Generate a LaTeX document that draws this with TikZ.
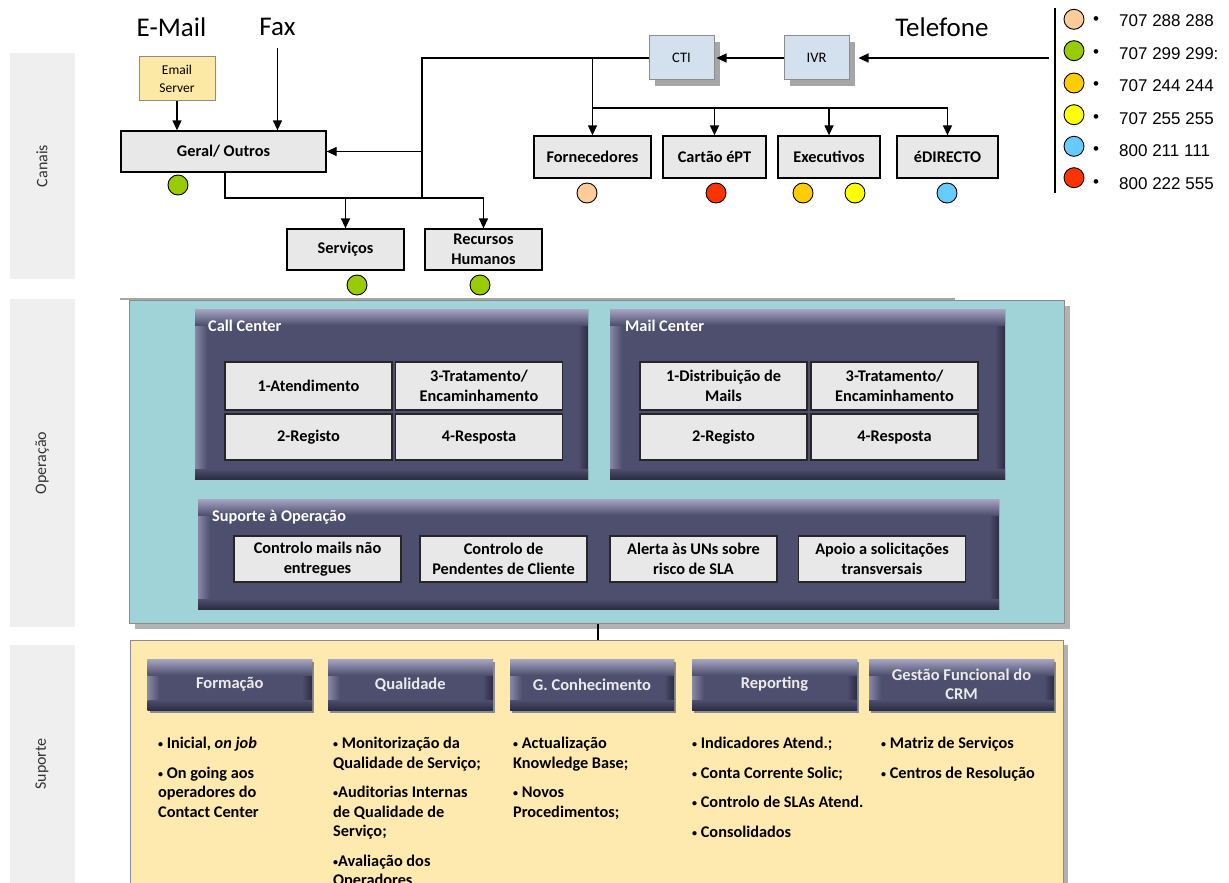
\documentclass[tikz,border=0pt]{standalone}
\usepackage{fontspec}
\setmainfont{Carlito}
\newfontfamily\numfont{Liberation Sans}
\usetikzlibrary{arrows.meta,shadows,calc}

\definecolor{boxgray}{HTML}{E8E8E8}
\definecolor{slate}{HTML}{4E4E6E}
\definecolor{slatehi}{HTML}{A6A6C4}
\definecolor{slatelo}{HTML}{2C2C44}
\definecolor{opsteal}{HTML}{A0D3D7}
\definecolor{suppy}{HTML}{FEE9AE}
\definecolor{stripgray}{HTML}{EFEFEF}
\definecolor{ctiblue}{HTML}{D3E1EE}
\definecolor{esyellow}{HTML}{FDE9A6}
\definecolor{cgreen}{HTML}{99CC00}
\definecolor{cpeach}{HTML}{FFCC99}
\definecolor{cred}{HTML}{FF3300}
\definecolor{corange}{HTML}{FFCC00}
\definecolor{cyellow}{HTML}{FFFF00}
\definecolor{cblue}{HTML}{66CCFF}

\newcommand\fBig{\fontsize{27}{30}\selectfont}
\newcommand\fLbl{\fontsize{16.3}{19.5}\selectfont\bfseries}
\newcommand\fSmall{\fontsize{13.5}{18}\selectfont}
\newcommand\fStrip{\fontsize{16}{19}\selectfont}
\newcommand\fNum{\numfont\fontsize{17}{20}\selectfont}
% small list bullet
\newcommand\bul{\raisebox{1pt}{\fontsize{10}{10}\selectfont •}}

\tikzset{
  box/.style={rectangle, draw=black, line width=1.3pt, fill=boxgray,
    inner sep=0pt, align=center, font=\fLbl},
  chan/.style={box, minimum height=41pt},
  cell/.style={box, line width=1.5pt, draw=black!85, minimum width=167pt},
  techbox/.style={rectangle, draw=black!45, line width=1pt, fill=ctiblue,
    minimum width=65pt, minimum height=44pt, font=\fontsize{14.5}{17}\selectfont,
    drop shadow={shadow xshift=6pt, shadow yshift=-6pt, fill=black!35, opacity=1}},
  dot/.style={circle, draw=black, line width=0.9pt, minimum size=20pt, inner sep=0pt},
  arr/.style={-{Triangle[length=10pt,width=9pt]}, line width=1.3pt},
  wire/.style={line width=1.8pt},
  bevel/.style={path picture={
      \coordinate (bvA) at (path picture bounding box.north west);
      \coordinate (bvB) at (path picture bounding box.south east);
      \shade[left color=slatehi!65!slate, right color=slate]
        (bvA) rectangle ($(bvA|-bvB)+(12pt,0pt)$);
      \shade[left color=slate, right color=slatelo]
        ($(bvB|-bvA)+(-10pt,0pt)$) rectangle (bvB);
      \shade[top color=slate, bottom color=slatelo]
        (bvA|-bvB) rectangle ($(bvB)+(0pt,10pt)$);
      \shade[top color=slatehi, bottom color=slate]
        (bvA) rectangle ($(bvB|-bvA)+(0pt,-16pt)$);
  }},
  panel/.style={rectangle, fill=slate, inner sep=0pt, bevel},
  hdr/.style={rectangle, fill=slate, inner sep=0pt, bevel, align=center,
    minimum height=51pt, text=black!8, font=\fontsize{16.5}{19.5}\selectfont\bfseries,
    drop shadow={shadow xshift=2pt, shadow yshift=-3pt, fill=black!45, opacity=1}},
  ptitle/.style={anchor=west, inner sep=0pt, text=white, font=\fLbl},
  strip/.style={fill=stripgray},
  striptext/.style={rotate=90, font=\fStrip, text=black!80},
  bullets/.style={anchor=north west, inner sep=0pt, align=left, font=\fLbl},
  legnum/.style={anchor=west, inner sep=0pt, font=\fNum},
}

\begin{document}
\begin{tikzpicture}[x=1pt,y=-1pt]
\useasboundingbox (0,0) rectangle (1229,883);
\clip (0,0) rectangle (1229,883);

% side bands
\fill[strip] (10,53) rectangle (75,279);
\fill[strip] (10,299) rectangle (75,627);
\fill[strip] (10,645) rectangle (75,900);
\node[striptext] (lcan) at (42,166) {Canais};
\node[striptext] (lope) at (42,463) {Operação};
\node[striptext] (lsup) at (42,764) {Suporte};
\draw[black!35, line width=1.5pt] (120,299) -- (955,299);

% channels
\node[font=\fBig] (email) at (171.5,27) {E-Mail};
\node[font=\fBig] (fax) at (277.5,27) {Fax};
\node[font=\fBig] (tel) at (942,27) {Telefone};

\node[rectangle, draw=black!45, line width=1pt, fill=esyellow, align=center,
  minimum width=76pt, minimum height=43pt, inner sep=0pt, font=\fSmall]
  (es) at (177,78.5) {Email\\Server};
\node[chan, minimum width=205pt] (geral) at (223.5,151.5) {Geral/ Outros};
\node[chan, minimum width=117pt] (serv) at (345.5,249.5) {Serviços};
\node[chan, minimum width=117pt] (rh) at (483.5,249.5) {Recursos\\Humanos};

\node[techbox] (cti) at (681.5,58) {CTI};
\node[techbox] (ivr) at (816.5,58) {IVR};

\node[chan, minimum width=117pt, minimum height=42pt] (forn) at (592.5,157) {Fornecedores};
\node[chan, minimum width=103pt, minimum height=42pt] (cart) at (714.5,157) {Cartão éPT};
\node[chan, minimum width=102pt, minimum height=42pt] (exec) at (829,157) {Executivos};
\node[chan, minimum width=101pt, minimum height=42pt] (edir) at (947.5,157) {éDIRECTO};

% connectors of the channel area
\draw[arr] (es.south) -- (es.south |- geral.north);
\draw[arr] ([yshift=-9pt]fax.south) -- (fax.south |- geral.north);

\coordinate (telin) at (1049,58);
\draw[arr] (telin) -- ([xshift=9pt]ivr.east);
\draw[arr] (ivr.west) -- ([xshift=2pt]cti.east);

\coordinate (jtop) at (422,58);
\coordinate (jbot) at (422,198);
\draw[wire] (cti.west) -- (jtop) -- (jbot);
\draw[arr] (jtop |- geral.east) -- (geral.east);
\draw[wire] ([xshift=1.5pt]geral.south) |- (rh.north |- jbot);
\draw[arr] (serv.north |- jbot) -- (serv.north);
\draw[arr] (rh.north |- jbot) -- (rh.north);

\coordinate (bus) at (592.5,108);
\draw[wire] (forn.north |- cti.west) -- (bus) -- (edir.north |- bus);
\draw[arr] (bus) -- (forn.north);
\draw[arr] (cart.north |- bus) -- (cart.north);
\draw[arr] (exec.north |- bus) -- (exec.north);
\draw[arr] (edir.north |- bus) -- (edir.north);

% channel markers
\node[dot, fill=cgreen] (dg) at (178,185) {};
\node[dot, fill=cgreen] (ds) at (357,285) {};
\node[dot, fill=cgreen] (dr) at (480,285) {};
\node[dot, fill=cpeach] (df) at (587,193) {};
\node[dot, fill=cred] (dc) at (716,193) {};
\node[dot, fill=corange] (de1) at (803,193) {};
\node[dot, fill=cyellow] (de2) at (855,193) {};
\node[dot, fill=cblue] (dd) at (947,193) {};

% legend
\draw[line width=2pt] (1055,8) -- (1055,193);
\foreach \cy/\ty/\col/\num [count=\i] in
  {19.3/20.7/cpeach/707 288 288, 50.7/53.3/cgreen/707 299 299:,
   83/86/corange/707 244 244, 114.7/118.7/cyellow/707 255 255,
   146.3/150.7/cblue/800 211 111, 177.7/183.7/cred/800 222 555}{
  \node[dot, fill=\col] (lg\i) at (1074,\cy) {};
  \node[font=\fNum, inner sep=0pt] (lb\i) at (1096,\ty) {•};
  \node[legnum] (ln\i) at (1119,\ty) {\num};
}

% operation area
\node[rectangle, draw=black!45, line width=1pt, fill=opsteal,
  minimum width=935pt, minimum height=323pt,
  drop shadow={shadow xshift=6pt, shadow yshift=-6pt, fill=black!30, opacity=1}]
  (ops) at (596.5,461.5) {};

\node[panel, minimum width=393pt, minimum height=170pt] (cc) at (391.5,394) {};
\node[ptitle] (cct) at (208,326) {Call Center};
\node[cell, minimum height=48pt] (cc1) at (308.5,386) {1-Atendimento};
\node[cell, minimum height=48pt] (cc3) at (479,386) {3-Tratamento/\\Encaminhamento};
\node[cell, minimum height=46pt] (cc2) at (308.5,437) {2-Registo};
\node[cell, minimum height=46pt] (cc4) at (479,437) {4-Resposta};

\node[panel, minimum width=395pt, minimum height=170pt] (mc) at (807.5,394) {};
\node[ptitle] (mct) at (625,326) {Mail Center};
\node[cell, minimum height=48pt] (mc1) at (723.5,386) {1-Distribuição de\\Mails};
\node[cell, minimum height=48pt] (mc3) at (894.5,386) {3-Tratamento/\\Encaminhamento};
\node[cell, minimum height=46pt] (mc2) at (723.5,437) {2-Registo};
\node[cell, minimum height=46pt] (mc4) at (894.5,437) {4-Resposta};

\node[panel, minimum width=801pt, minimum height=110pt] (so) at (598.5,554) {};
\node[ptitle] (sot) at (212,517) {Suporte à Operação};
\node[cell, minimum height=46pt] (so1) at (317.5,559) {Controlo mails não\\entregues};
\node[cell, minimum height=46pt] (so2) at (503.5,559) {Controlo de\\Pendentes de Cliente};
\node[cell, minimum height=46pt] (so3) at (693.5,559) {Alerta às UNs sobre\\risco de SLA};
\node[cell, minimum height=46pt] (so4) at (882,559) {Apoio a solicitações\\transversais};

% support area
\node[rectangle, draw=black!45, line width=1pt, fill=suppy,
  minimum width=933pt, minimum height=310pt,
  drop shadow={shadow xshift=5pt, shadow yshift=-5pt, fill=black!30, opacity=1}]
  (sup) at (596.5,795) {};
\draw[line width=1.5pt] ([xshift=1.5pt]ops.south) -- ([xshift=1.5pt]ops.south |- sup.north);

\node[hdr, minimum width=164.5pt] (h1) at (229.75,684.5) {Formação};
\node[hdr, minimum width=164.5pt] (h2) at (410.25,684.5) {Qualidade};
\node[hdr, minimum width=164pt] (h3) at (592,684.5) {G. Conhecimento};
\node[hdr, minimum width=165pt] (h4) at (774.5,684.5) {Reporting};
\node[hdr, minimum width=185pt] (h5) at (961.5,684.5) {Gestão Funcional do\\CRM};

\node[bullets] (b1) at (158,737) {\bul\ Inicial, \textit{on job}\\[10pt]
  \bul\ On going aos\\operadores do\\Contact Center};
\node[bullets] (b2) at (333,737) {\bul\ Monitorização da\\Qualidade de Serviço;\\[10pt]
  \bul Auditorias Internas\\de Qualidade de\\Serviço;\\[10pt]
  \bul Avaliação dos\\Operadores};
\node[bullets] (b3) at (513,737) {\bul\ Actualização\\Knowledge Base;\\[10pt]
  \bul\ Novos\\Procedimentos;};
\node[bullets] (b4) at (692,737) {\bul\ Indicadores Atend.;\\[10pt]
  \bul\ Conta Corrente Solic;\\[10pt]
  \bul\ Controlo de SLAs Atend.\\[10pt]
  \bul\ Consolidados};
\node[bullets] (b5) at (881,737) {\bul\ Matriz de Serviços\\[10pt]
  \bul\ Centros de Resolução};
\end{tikzpicture}
\end{document}
